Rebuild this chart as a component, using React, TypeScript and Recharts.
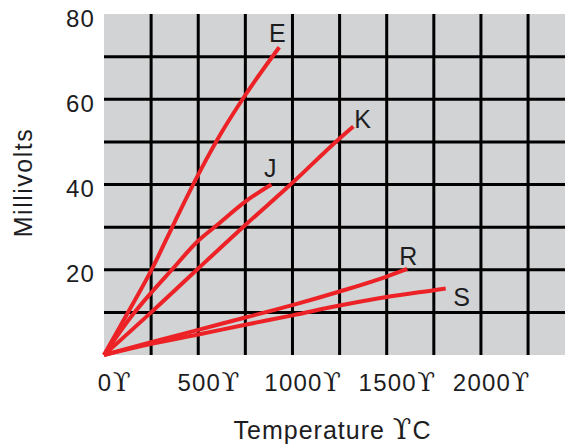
import React from 'react';
import { LineChart, Line, XAxis, YAxis, CartesianGrid, ReferenceLine, Label } from 'recharts';

// thermocouple output (°C, mV)
const typeE = [
  { t: 0, mv: 0 }, { t: 130, mv: 10.2 }, { t: 250, mv: 19.8 }, { t: 375, mv: 31.2 },
  { t: 500, mv: 42.3 }, { t: 625, mv: 52.3 }, { t: 750, mv: 61 }, { t: 930, mv: 72.2 },
];
const typeJ = [
  { t: 0, mv: 0 }, { t: 155, mv: 9.6 }, { t: 250, mv: 14.6 }, { t: 360, mv: 20 },
  { t: 500, mv: 26.8 }, { t: 600, mv: 30.5 }, { t: 750, mv: 36 }, { t: 888, mv: 40 },
];
const typeK = [
  { t: 0, mv: 0 }, { t: 250, mv: 10 }, { t: 500, mv: 20.3 }, { t: 750, mv: 30.5 },
  { t: 1000, mv: 40.4 }, { t: 1250, mv: 50.8 }, { t: 1323, mv: 53.6 },
];
const typeR = [
  { t: 0, mv: 0 }, { t: 250, mv: 3 }, { t: 500, mv: 5.9 }, { t: 750, mv: 8.8 },
  { t: 1000, mv: 11.7 }, { t: 1250, mv: 14.9 }, { t: 1500, mv: 18.4 }, { t: 1609, mv: 20.2 },
];
const typeS = [
  { t: 0, mv: 0 }, { t: 250, mv: 2.6 }, { t: 500, mv: 4.8 }, { t: 750, mv: 7.1 },
  { t: 1000, mv: 9.3 }, { t: 1250, mv: 11.6 }, { t: 1500, mv: 13.6 }, { t: 1750, mv: 15.2 },
  { t: 1813, mv: 15.6 },
];

const xGridTicks = [250, 500, 750, 1000, 1250, 1500, 1750, 2000, 2250];
const yGridTicks = [10, 20, 30, 40, 50, 60, 70];
const xLabelTicks = [0, 500, 1000, 1500, 2000];
const yLabelTicks = [20, 40, 60, 80];
const degree = 'ϒ';

const X_MAX = 2446;
const RED = '#ec2227';
const INK = '#1d1d1f';
const SANS = '"Liberation Sans", Arial, sans-serif';
const SERIF = '"DejaVu Serif", "Liberation Serif", serif';

// label placement relative to the last point of each curve
const series = [
  { name: 'E', data: typeE, dx: -2, dy: -5.6, anchor: 'middle' },
  { name: 'J', data: typeJ, dx: -1, dy: -8, anchor: 'middle' },
  { name: 'K', data: typeK, dx: 1, dy: 1.6, anchor: 'start' },
  { name: 'R', data: typeR, dx: 1, dy: -4.3, anchor: 'middle' },
  { name: 'S', data: typeS, dx: 7.6, dy: 17.7, anchor: 'start' },
];

const XTick = ({ x, y, payload }: any) => {
  const num = String(payload.value);
  const w = num.length * 13.4 + (num.length - 1) * 1.2;
  return (
    <g>
      <text x={x + 1} y={y + 36} textAnchor="middle" fontFamily={SANS} fontSize={24} letterSpacing={1.2} fill={INK}>
        {num}
      </text>
      <text x={x + 1 + w / 2 + 1} y={y + 36} textAnchor="start" fontFamily={SERIF} fontSize={26} fill={INK}>
        {degree}
      </text>
    </g>
  );
};

const YTick = ({ x, y, payload }: any) => (
  <text x={x - 9} y={y + 12.5} textAnchor="end" fontFamily={SANS} fontSize={24} letterSpacing={1.2} fill={INK}>
    {payload.value}
  </text>
);

export default function App() {
  return (
    <div style={{ position: 'absolute', left: 0, top: 0, width: 565, height: 445, background: '#fff' }}>
      <LineChart width={565} height={445} margin={{ top: 14, right: 0, left: 0, bottom: 0 }}>
        <CartesianGrid fill="#d1d3d4" fillOpacity={1} horizontal={false} vertical={false} stroke="none" />
        <XAxis
          type="number"
          dataKey="t"
          domain={[0, X_MAX]}
          ticks={xLabelTicks}
          height={90}
          axisLine={false}
          tickLine={false}
          tickSize={0}
          tickMargin={0}
          tick={<XTick />}
        >
          <Label
            content={({ viewBox }: any) => (
              <text
                x={viewBox.x + viewBox.width / 2 - 2}
                y={439}
                textAnchor="middle"
                fontFamily={SANS}
                fontSize={25}
                letterSpacing={1}
                fill={INK}
              >
                Temperature <tspan fontFamily={SERIF} fontSize={27}>{degree}</tspan>C
              </text>
            )}
          />
        </XAxis>
        <YAxis
          type="number"
          domain={[0, 80]}
          ticks={yLabelTicks}
          width={104}
          axisLine={false}
          tickLine={false}
          tickSize={0}
          tickMargin={0}
          tick={<YTick />}
        >
          <Label
            content={({ viewBox }: any) => {
              const cx = 32;
              const cy = viewBox.y + viewBox.height / 2 - 2;
              return (
                <text
                  x={cx}
                  y={cy}
                  transform={`rotate(-90 ${cx} ${cy})`}
                  textAnchor="middle"
                  fontFamily={SANS}
                  fontSize={25}
                  letterSpacing={1.5}
                  fill={INK}
                >
                  Millivolts
                </text>
              );
            }}
          />
        </YAxis>
        {xGridTicks.map((v) => (
          <ReferenceLine key={`vx${v}`} x={v} stroke="#000" strokeWidth={3} />
        ))}
        {yGridTicks.map((v) => (
          <ReferenceLine key={`hy${v}`} y={v} stroke="#000" strokeWidth={3} />
        ))}
        {series.map((s) => (
          <Line
            key={s.name}
            data={s.data}
            dataKey="mv"
            type="monotone"
            stroke={RED}
            strokeWidth={4}
            dot={false}
            activeDot={false}
            isAnimationActive={false}
            label={(p: any) =>
              p.index === s.data.length - 1 ? (
                <text
                  key={s.name}
                  x={p.x + s.dx}
                  y={p.y + s.dy}
                  textAnchor={s.anchor}
                  fontFamily={SANS}
                  fontSize={25}
                  fill={INK}
                >
                  {s.name}
                </text>
              ) : (
                <g key={`${s.name}-${p.index}`} />
              )
            }
          />
        ))}
      </LineChart>
    </div>
  );
}
